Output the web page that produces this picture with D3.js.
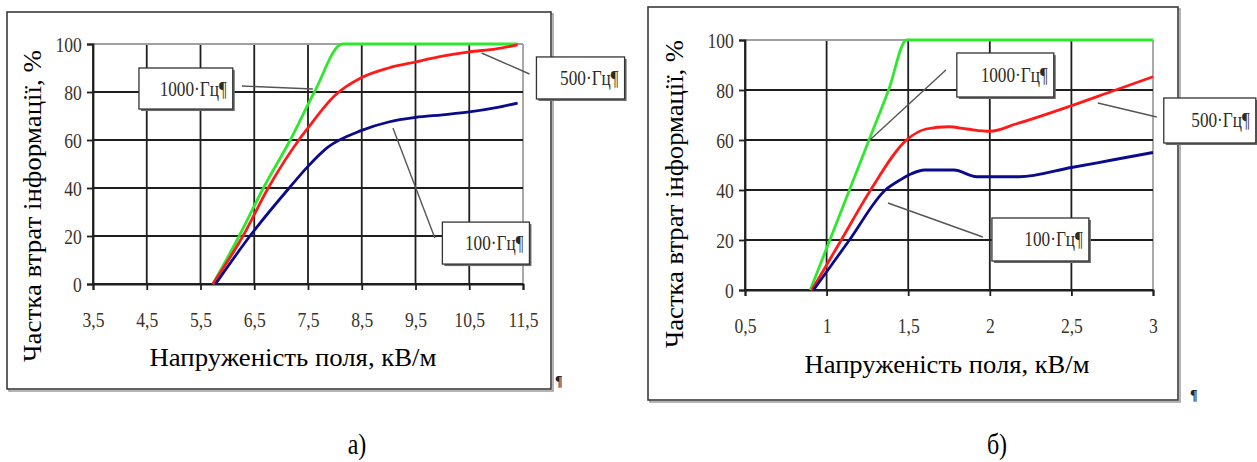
<!DOCTYPE html>
<html>
<head>
<meta charset="utf-8">
<script src="https://cdn.jsdelivr.net/npm/d3@7"></script>
<style>
  body { margin: 0; background: #fff; }
  svg text { font-family: "Liberation Serif", "Tinos", "DejaVu Serif", "Noto Serif", serif; }
</style>
</head>
<body>
<svg id="chart"></svg>
<script>
// ---- data, panel a) ----
var xTicksA = [3.5, 4.5, 5.5, 6.5, 7.5, 8.5, 9.5, 10.5, 11.5];
var yTicks = [0, 20, 40, 60, 80, 100];
var a1000 = [[5.73,0],[6.22,20],[6.67,40],[7.17,60],[7.62,80],[8.14,100],[11.4,100]];
var a500  = [[5.73,0],[6.29,20],[6.76,40],[7.33,60],[7.5,65],[8.0,78.5],[8.5,86],[9.0,90],[9.5,92.5],[10.0,94.9],[10.5,96.7],[11.0,98],[11.4,99.6]];
var a100  = [[5.78,0],[6.42,20],[7.15,40],[7.5,49],[7.87,57],[8.5,64],[9.0,67.5],[9.5,69.4],[10.0,70.5],[10.5,71.7],[11.0,73.5],[11.4,75.4]];

// ---- data, panel б) ----
var xTicksB = [0.5, 1, 1.5, 2, 2.5, 3];
var b1000 = [[0.9,0],[1.02,20],[1.14,40],[1.26,60],[1.38,80],[1.49,100],[3,100]];
var b500  = [[0.91,0],[1.09,20],[1.27,40],[1.49,60],[1.61,64.4],[1.75,65.3],[1.86,64.4],[2.0,63.5],[2.16,66.4],[2.5,73.7],[2.75,79.5],[3.0,85.3]];
var b100  = [[0.92,0],[1.14,20],[1.36,40],[1.45,44],[1.52,46.5],[1.6,48],[1.78,48],[1.92,45.3],[2.18,45.3],[2.5,49],[2.75,52],[3.0,55]];

var seriesNames = ["1000·Гц¶", "500·Гц¶", "100·Гц¶"];
var seriesColors = ["#2ee82e", "#ff1a1a", "#0a0a8a"];
var yTitle = "Частка втрат інформації, %";
var xTitle = "Напруженість поля, кВ/м";

var fmt = function(d){ return String(d).replace(".", ","); };

var svg = d3.select("#chart").attr("width", 1257).attr("height", 462);
svg.append("rect").attr("width", 1257).attr("height", 462).attr("fill", "#fff");

var panels = [
  { frame:[7,12,544,377], px:[93,523], py:[284,44], xDomain:[3.5,11.5], xTicks:xTicksA,
    series:[a1000,a500,a100], caption:"а)", capX:357,
    yLab:[32,206,312], xLab:[293,366,287], pil:[555,386],
    // annotation: box [x0,x1,y0,y1] and leader [xa,ya,xb,yb] in data units
    notes:[ {box:[4.355,6.10,90,72.9], lead:[6.27,82.5,7.59,81.25]},
            {box:[11.75,13.39,94.6,77.1], lead:[10.73,96.25,11.62,87.5]},
            {box:[10.0,11.62,25.8,8.3], lead:[9.08,65,9.86,19.2]} ] },
  { frame:[648,7,530,393], px:[745,1153], py:[290,40], xDomain:[0.5,3], xTicks:xTicksB,
    series:[b1000,b500,b100], caption:"б)", capX:997,
    yLab:[674,194,308], xLab:[947,373,285], pil:[1190,400],
    notes:[ {box:[1.798,2.392,94.8,77.2], lead:[1.265,60,1.731,88]},
            {box:[3.066,3.63,76.8,58.8], lead:[2.662,74.8,3.023,69.2]},
            {box:[2.013,2.607,28.8,11.6], lead:[1.376,34.8,1.957,21.2]} ] }
];

panels.forEach(function(p){
  var g = svg.append("g");
  var x = d3.scaleLinear().domain(p.xDomain).range(p.px);
  var y = d3.scaleLinear().domain([0,100]).range(p.py);
  var f = p.frame;

  // outer frame with a soft shadow
  g.append("rect").attr("x", f[0]+2).attr("y", f[1]+2).attr("width", f[2]).attr("height", f[3])
    .attr("fill", "none").attr("stroke", "#9a9a9a").attr("stroke-width", 1.5);
  g.append("rect").attr("x", f[0]).attr("y", f[1]).attr("width", f[2]).attr("height", f[3])
    .attr("fill", "#fff").attr("stroke", "#3a3a3a").attr("stroke-width", 1.6);

  // grid
  var last = p.xTicks.length - 1;
  g.append("g").selectAll("line").data(p.xTicks).enter().append("line")
    .attr("x1", function(d){ return x(d); }).attr("x2", function(d){ return x(d); })
    .attr("y1", y(0)).attr("y2", y(100))
    .attr("stroke", function(d,i){ return i == last ? "#a0a0a0" : "#1e1e1e"; })
    .attr("stroke-width", 1.8);
  g.append("g").selectAll("line").data(yTicks).enter().append("line")
    .attr("x1", x(p.xDomain[0])).attr("x2", x(p.xDomain[1]))
    .attr("y1", function(d){ return y(d); }).attr("y2", function(d){ return y(d); })
    .attr("stroke", function(d){ return d == 100 ? "#a0a0a0" : "#1e1e1e"; })
    .attr("stroke-width", 1.8);

  // axes (ticks + labels)
  var xAxis = g.append("g").attr("transform", "translate(0," + y(0) + ")")
    .call(d3.axisBottom(x).tickValues(p.xTicks).tickFormat(fmt).tickSize(6).tickPadding(21));
  var yAxis = g.append("g").attr("transform", "translate(" + x(p.xDomain[0]) + ",0)")
    .call(d3.axisLeft(y).tickValues(yTicks).tickSize(6).tickPadding(8));
  [xAxis, yAxis].forEach(function(ax){
    ax.attr("font-family", null);
    ax.select(".domain").attr("stroke", "#1e1e1e").attr("stroke-width", 1.8);
    ax.selectAll(".tick line").attr("stroke", "#1e1e1e").attr("stroke-width", 1.8);
    ax.selectAll(".tick text")
      .attr("font-size", 22)
      .attr("fill", "#3b3226").attr("transform", "scale(0.8,1)");
  });

  // series lines
  var line = d3.line().x(function(d){ return x(d[0]); }).y(function(d){ return y(d[1]); })
    .curve(d3.curveMonotoneX);
  g.append("g").selectAll("path").data(p.series).enter().append("path")
    .attr("d", line).attr("fill", "none")
    .attr("stroke", function(d,i){ return seriesColors[i]; })
    .attr("stroke-width", 2.8).attr("stroke-linejoin", "round");

  // annotations
  p.notes.forEach(function(n, i){
    g.append("line").attr("x1", x(n.lead[0])).attr("y1", y(n.lead[1]))
      .attr("x2", x(n.lead[2])).attr("y2", y(n.lead[3]))
      .attr("stroke", "#555").attr("stroke-width", 1.4);
    var bx = x(n.box[0]), bw = x(n.box[1]) - bx, by = y(n.box[2]), bh = y(n.box[3]) - by;
    g.append("rect").attr("x", bx+2).attr("y", by+2).attr("width", bw).attr("height", bh)
      .attr("fill", "#6a6a6a");
    g.append("rect").attr("x", bx).attr("y", by).attr("width", bw).attr("height", bh)
      .attr("fill", "#fff").attr("stroke", "#333").attr("stroke-width", 1.3);
    g.append("text").attr("x", (bx + bw - 6) / 0.82).attr("y", by + bh/2 + 7)
      .attr("transform", "scale(0.82,1)").attr("text-anchor", "end")
      .attr("font-size", 21).attr("fill", "#2e2a24").text(seriesNames[i]);
  });

  // titles
  g.append("text").attr("transform", "translate(" + p.yLab[0] + "," + p.yLab[1] + ") rotate(-90)")
    .attr("text-anchor", "middle").attr("dy", "0.35em").attr("font-size", 25).attr("fill", "#000")
    .attr("textLength", p.yLab[2]).attr("lengthAdjust", "spacingAndGlyphs")
    .text(yTitle);
  g.append("text").attr("x", p.xLab[0]).attr("y", p.xLab[1]).attr("text-anchor", "middle")
    .attr("font-size", 25).attr("fill", "#000")
    .attr("textLength", p.xLab[2]).attr("lengthAdjust", "spacingAndGlyphs")
    .text(xTitle);

  // pilcrow after the frame and caption below
  g.append("text").attr("x", p.pil[0]).attr("y", p.pil[1]).attr("font-size", 14)
    .attr("font-weight", "bold").attr("fill", "#223").text("¶");
  g.append("text").attr("x", p.capX / 0.8).attr("y", 454).attr("transform", "scale(0.8,1)")
    .attr("text-anchor", "middle").attr("font-size", 30).attr("fill", "#000").text(p.caption);
});
</script>
</body>
</html>
